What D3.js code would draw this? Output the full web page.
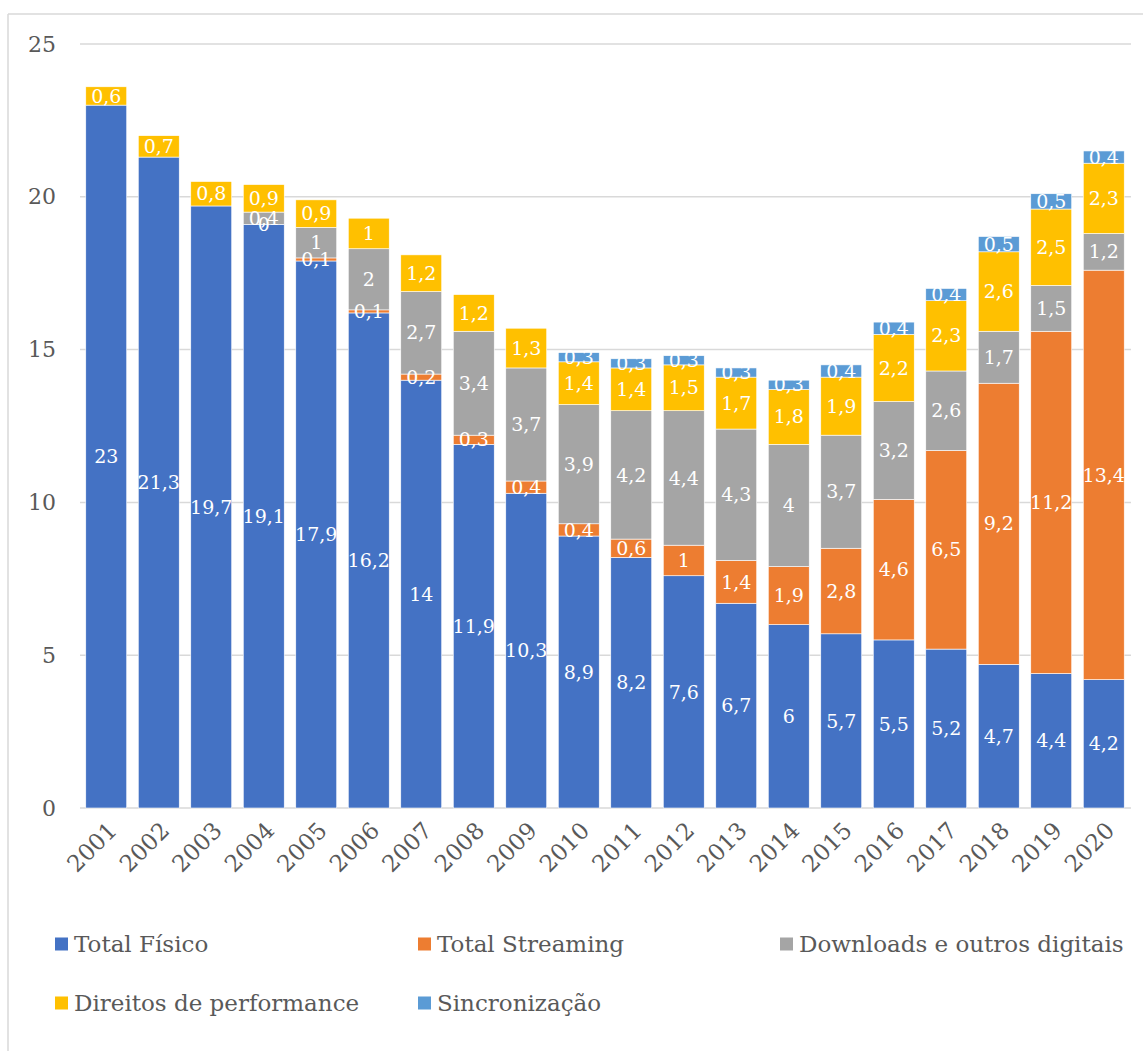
<!DOCTYPE html>
<html>
<head>
<meta charset="utf-8">
<script src="https://cdn.jsdelivr.net/npm/d3@7"></script>
<style>
  html, body { margin: 0; padding: 0; background: #fff; }
  svg { display: block; }
  text { font-family: Georgia, "DejaVu Serif", serif; }
</style>
</head>
<body>
<script>
const years = ["2001","2002","2003","2004","2005","2006","2007","2008","2009","2010","2011","2012","2013","2014","2015","2016","2017","2018","2019","2020"];
const seriesNames = ["Total Físico","Total Streaming","Downloads e outros digitais","Direitos de performance","Sincronização"];
const seriesColors = ["#4472C4","#ED7D31","#A5A5A5","#FFC000","#5B9BD5"];
const fisico     = [23, 21.3, 19.7, 19.1, 17.9, 16.2, 14, 11.9, 10.3, 8.9, 8.2, 7.6, 6.7, 6, 5.7, 5.5, 5.2, 4.7, 4.4, 4.2];
const streaming  = [null, null, null, 0, 0.1, 0.1, 0.2, 0.3, 0.4, 0.4, 0.6, 1, 1.4, 1.9, 2.8, 4.6, 6.5, 9.2, 11.2, 13.4];
const downloads  = [null, null, null, 0.4, 1, 2, 2.7, 3.4, 3.7, 3.9, 4.2, 4.4, 4.3, 4, 3.7, 3.2, 2.6, 1.7, 1.5, 1.2];
const direitos   = [0.6, 0.7, 0.8, 0.9, 0.9, 1, 1.2, 1.2, 1.3, 1.4, 1.4, 1.5, 1.7, 1.8, 1.9, 2.2, 2.3, 2.6, 2.5, 2.3];
const sincro     = [null, null, null, null, null, null, null, null, null, 0.3, 0.3, 0.3, 0.3, 0.3, 0.4, 0.4, 0.4, 0.5, 0.5, 0.4];
const yTicks = [0, 5, 10, 15, 20, 25];

const seriesData = [fisico, streaming, downloads, direitos, sincro];
const W = 1143, H = 1051;
const svg = d3.select("body").append("svg").attr("width", W).attr("height", H);

// frame (only top and left visible)
svg.append("line").attr("x1", 8).attr("x2", W).attr("y1", 14).attr("y2", 14).attr("stroke", "#d9d9d9").attr("stroke-width", 1.5);
svg.append("line").attr("x1", 8).attr("x2", 8).attr("y1", 14).attr("y2", H).attr("stroke", "#d9d9d9").attr("stroke-width", 1.5);

const x = d3.scaleBand().domain(years).range([80, 1130]).paddingInner(0.22).paddingOuter(0.11);
const y = d3.scaleLinear().domain([0, 25]).range([808, 44]);

// gridlines
svg.append("g").selectAll("line").data(yTicks).join("line")
  .attr("x1", 80).attr("x2", 1131)
  .attr("y1", d => y(d)).attr("y2", d => y(d))
  .attr("stroke", "#d9d9d9").attr("stroke-width", 1.5);

// y axis labels
const yAxis = d3.axisLeft(y).tickValues(yTicks).tickSize(0).tickPadding(0).tickFormat(d => String(d));
const gy = svg.append("g").attr("transform", "translate(56,0)").call(yAxis);
gy.select(".domain").remove();
gy.selectAll("text").attr("font-size", 22).attr("fill", "#595959").attr("font-family", 'Georgia, "DejaVu Serif", serif');

// stacks
const table = years.map((yr, i) => {
  const o = { year: yr };
  seriesNames.forEach((s, k) => { o[s] = seriesData[k][i]; });
  return o;
});
const stack = d3.stack().keys(seriesNames).value((d, k) => d[k] == null ? 0 : d[k]);
const stacked = stack(table);

const fmt = v => String(v).replace(".", ",");

stacked.forEach((layer, k) => {
  const g = svg.append("g");
  g.selectAll("rect").data(layer.filter(d => d.data[seriesNames[k]] != null && d.data[seriesNames[k]] > 0)).join("rect")
    .attr("x", d => x(d.data.year))
    .attr("width", x.bandwidth())
    .attr("y", d => y(d[1]))
    .attr("height", d => y(d[0]) - y(d[1]))
    .attr("fill", seriesColors[k])
    .attr("stroke", "#ffffff").attr("stroke-width", 0.6);
});
stacked.forEach((layer, k) => {
  const g = svg.append("g");
  g.selectAll("text").data(layer.filter(d => d.data[seriesNames[k]] != null)).join("text")
    .attr("x", d => x(d.data.year) + x.bandwidth() / 2)
    .attr("y", d => (y(d[0]) + y(d[1])) / 2)
    .attr("dy", "0.35em")
    .attr("text-anchor", "middle")
    .attr("font-size", 19)
    .attr("fill", "#ffffff")
    .text(d => fmt(d.data[seriesNames[k]]));
});

// x axis labels rotated
const xAxis = d3.axisBottom(x).tickSize(0).tickPadding(0);
const gx = svg.append("g").attr("transform", "translate(0,808)").call(xAxis);
gx.select(".domain").remove();
gx.selectAll("text")
  .attr("font-size", 23).attr("fill", "#595959")
  .attr("font-family", 'Georgia, "DejaVu Serif", serif')
  .attr("text-anchor", "end")
  .attr("dy", "0")
  .attr("y", 0)
  .attr("transform", "translate(12,24) rotate(-45)");

// legend
const legendPos = [[55, 944], [418, 944], [780, 944], [55, 1003], [418, 1003]];
const lg = svg.append("g");
seriesNames.forEach((s, k) => {
  const [lx, ly] = legendPos[k];
  lg.append("rect").attr("x", lx).attr("y", ly - 6.5).attr("width", 13).attr("height", 13).attr("fill", seriesColors[k]);
  lg.append("text").attr("x", lx + 19).attr("y", ly).attr("dy", "0.35em")
    .attr("font-size", 23).attr("fill", "#595959").text(s);
});
</script>
</body>
</html>
